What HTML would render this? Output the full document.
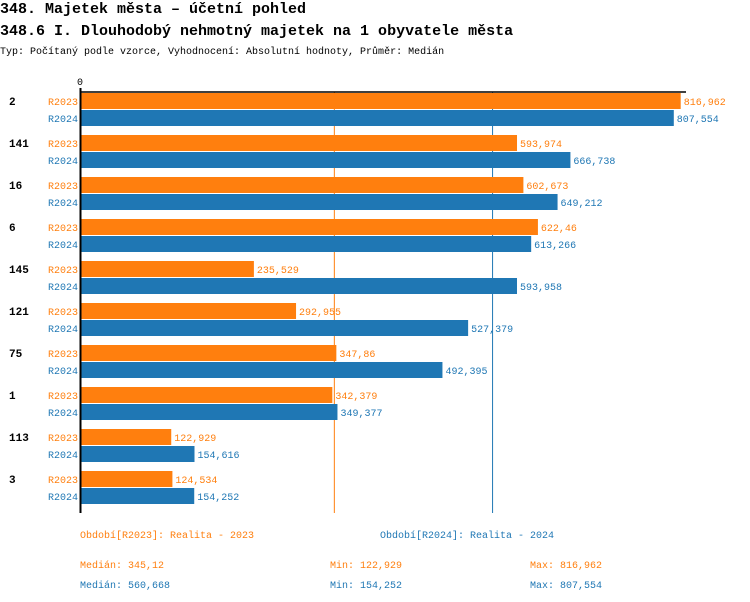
<!DOCTYPE html>
<html><head><meta charset="utf-8">
<style>
body{margin:0;background:#fff;}
svg{display:block;font-family:"Liberation Mono",monospace;}
</style></head>
<body>
<svg id="c" width="750" height="602" xmlns="http://www.w3.org/2000/svg">
<text x="0" y="13" font-size="15" font-weight="bold" fill="#000">348. Majetek města – účetní pohled</text>
<text x="0" y="35" font-size="15" font-weight="bold" fill="#000">348.6 I. Dlouhodobý nehmotný majetek na 1 obyvatele města</text>
<text x="0" y="54" font-size="10" fill="#000">Typ: Počítaný podle vzorce, Vyhodnocení: Absolutní hodnoty, Průměr: Medián</text>
<g id="plot"></g>
</svg>
<script>
const categories=["2","141","16","6","145","121","75","1","113","3"];
const values2023=[816962,593974,602673,622460,235529,292955,347860,342379,122929,124534];
const values2024=[807554,666738,649212,613266,593958,527379,492395,349377,154616,154252];
const labels2023=["816,962","593,974","602,673","622,46","235,529","292,955","347,86","342,379","122,929","124,534"];
const labels2024=["807,554","666,738","649,212","613,266","593,958","527,379","492,395","349,377","154,616","154,252"];
const median2023=345120, median2024=560668;
const C1="#ff7f0e",C2="#1f77b4";
const NS="http://www.w3.org/2000/svg";
const g=document.getElementById('plot');
const x0=81, xMax=816962, xW=599.7;
const x=v=>x0+v/xMax*xW;
const yTop=93, step=42;
function el(t,a,txt){const e=document.createElementNS(NS,t);for(const k in a)e.setAttribute(k,a[k]);if(txt!=null)e.textContent=txt;g.appendChild(e);return e;}
let m=el('line',{x1:x(median2023),x2:x(median2023),y1:92,y2:513,stroke:C1,'stroke-width':1});


m=el('line',{x1:x(median2024),x2:x(median2024),y1:92,y2:513,stroke:C2,'stroke-width':1});


categories.forEach((c,i)=>{
  const y=yTop+i*step;
  let t=el('text',{x:9,y:y+12,'font-size':11,'font-weight':'bold',fill:'#000'},c);
  
  
  t=el('text',{x:78,y:y+12,'font-size':10,fill:C1,'text-anchor':'end'},'R2023');
  
  
  t=el('text',{x:78,y:y+29,'font-size':10,fill:C2,'text-anchor':'end'},'R2024');
  
  
  let b=el('rect',{x:x0,y:y,width:x(values2023[i])-x0,height:16,fill:C1});
  
  
  b=el('rect',{x:x0,y:y+17,width:x(values2024[i])-x0,height:16,fill:C2});
  
  
  t=el('text',{x:x(values2023[i])+3,y:y+12,'font-size':10,fill:C1},labels2023[i]);
  
  
  t=el('text',{x:x(values2024[i])+3,y:y+29,'font-size':10,fill:C2},labels2024[i]);
  
  
});
let a=el('line',{x1:80,x2:686,y1:92,y2:92,stroke:'#000','stroke-width':1.5});


a=el('line',{x1:80.5,x2:80.5,y1:88,y2:513,stroke:'#000','stroke-width':2});


a=el('text',{x:80,y:85,'font-size':10,fill:'#000','text-anchor':'middle'},'0');


const foot=[
 [80,538,C1,'Období[R2023]: Realita - 2023','legend-2023'],
 [380,538,C2,'Období[R2024]: Realita - 2024','legend-2024'],
 [80,568,C1,'Medián: 345,12','median-2023'],
 [330,568,C1,'Min: 122,929','min-2023'],
 [530,568,C1,'Max: 816,962','max-2023'],
 [80,588,C2,'Medián: 560,668','median-2024'],
 [330,588,C2,'Min: 154,252','min-2024'],
 [530,588,C2,'Max: 807,554','max-2024']];
foot.forEach(f=>{
  const t=el('text',{x:f[0],y:f[1],'font-size':10,fill:f[2]},f[3]);
  
  
});
</script>
</body></html>
